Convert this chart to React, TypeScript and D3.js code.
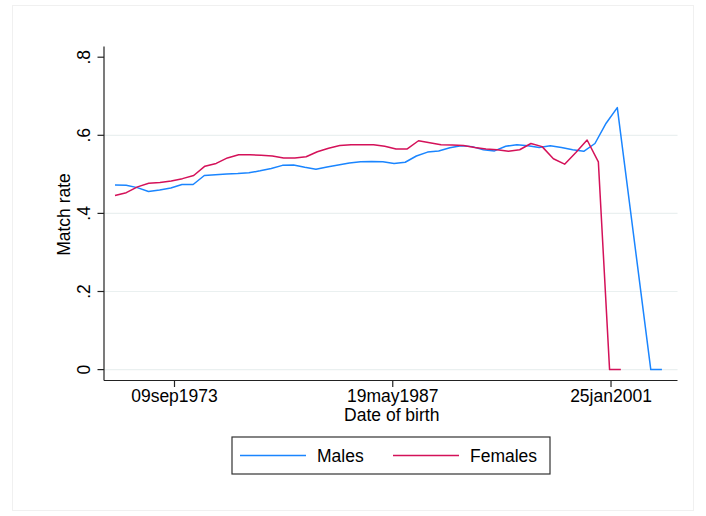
import React from 'react';
import * as d3 from 'd3';

// birth dates as Stata day numbers (days since 01jan1960)
const maleDates = [
  3637, 3893, 4148, 4404, 4660, 4916, 5171, 5427, 5683, 5938,
  6194, 6450, 6705, 6961, 7217, 7473, 7728, 7984, 8240, 8495,
  8751, 9007, 9262, 9518, 9774, 10030, 10285, 10541, 10797, 11052,
  11308, 11564, 11819, 12075, 12331, 12587, 12842, 13098, 13354, 13609,
  13865, 14121, 14376, 14632, 14888, 15144, 15911, 16166
];
const maleRates = [
  0.473, 0.472, 0.466, 0.456, 0.460, 0.465, 0.474, 0.474, 0.497, 0.499,
  0.501, 0.502, 0.504, 0.509, 0.515, 0.523, 0.524, 0.518, 0.513, 0.519,
  0.524, 0.529, 0.532, 0.533, 0.532, 0.528, 0.531, 0.547, 0.557, 0.560,
  0.568, 0.573, 0.571, 0.563, 0.560, 0.572, 0.576, 0.573, 0.569, 0.573,
  0.569, 0.563, 0.559, 0.579, 0.631, 0.671, 0, 0
];
const femaleDates = [
  3637, 3895, 4152, 4410, 4667, 4925, 5182, 5440, 5697, 5955,
  6212, 6470, 6727, 6985, 7242, 7500, 7757, 8015, 8272, 8530,
  8787, 9045, 9302, 9560, 9817, 10075, 10332, 10590, 10847, 11105,
  11362, 11620, 11877, 12135, 12392, 12650, 12907, 13165, 13422, 13680,
  13937, 14195, 14452, 14710, 14967, 15225
];
const femaleRates = [
  0.446, 0.453, 0.468, 0.477, 0.479, 0.483, 0.489, 0.497, 0.521, 0.528,
  0.542, 0.550, 0.550, 0.549, 0.547, 0.542, 0.542, 0.545, 0.558, 0.567,
  0.574, 0.576, 0.576, 0.576, 0.572, 0.565, 0.565, 0.586, 0.581, 0.576,
  0.575, 0.574, 0.569, 0.565, 0.563, 0.559, 0.563, 0.579, 0.571, 0.540,
  0.526, 0.556, 0.588, 0.532, 0, 0
];

const xTickValues = [5000, 10000, 15000];
const xTickLabels = ['09sep1973', '19may1987', '25jan2001'];
const yTickValues = [0, 0.2, 0.4, 0.6, 0.8];
const yTickLabels = ['0', '.2', '.4', '.6', '.8'];
const gridValues = [0, 0.2, 0.4, 0.6];
const seriesNames = ['Males', 'Females'];
const seriesColors = ['#1a85ff', '#d41159'];

const W = 706, H = 516;
const plot = { left: 104, right: 677.5, top: 46.5, bottom: 380.5 };
const font = '"Liberation Sans", Arial, Helvetica, sans-serif';
const fs = 17.5;

export default function App() {
  const x = d3.scaleLinear().domain([3385, 16523]).range([plot.left, plot.right]);
  const y = d3.scaleLinear().domain([0, 0.8]).range([369.6, 57.2]);

  const line = d3.line<[number, number]>()
    .x((d) => x(d[0]))
    .y((d) => y(d[1]));

  const series = [
    maleDates.map((d, i) => [d, maleRates[i]] as [number, number]),
    femaleDates.map((d, i) => [d, femaleRates[i]] as [number, number]),
  ];

  const legend = { x: 232, y: 437, w: 318, h: 37 };
  const legendItems = [
    { x1: 240, x2: 306, tx: 317 },
    { x1: 393, x2: 459, tx: 470 },
  ];

  return (
    <div style={{ position: 'fixed', left: 0, top: 0 }}>
      <svg width={W} height={H} style={{ display: 'block', fontFamily: font }}>
        <rect x={0} y={0} width={W} height={H} fill="#ffffff" />
        <rect x={12.5} y={5.5} width={681} height={505} fill="none" stroke="#f0f0f0" strokeWidth={1} />

        {gridValues.map((v) => (
          <line key={`g-${v}`} x1={plot.left} x2={plot.right} y1={y(v)} y2={y(v)}
            stroke="#eaf0f0" strokeWidth={1.2} />
        ))}

        {series.map((s, i) => (
          <path key={seriesNames[i]} d={line(s) || ''} fill="none"
            stroke={seriesColors[i]} strokeWidth={1.5} strokeLinejoin="round" />
        ))}

        {/* y axis */}
        <line x1={plot.left} x2={plot.left} y1={plot.top} y2={plot.bottom} stroke="#222" strokeWidth={1.2} />
        {yTickValues.map((v, i) => (
          <g key={`yt-${v}`}>
            <line x1={plot.left - 6.5} x2={plot.left} y1={y(v)} y2={y(v)} stroke="#222" strokeWidth={1.2} />
            <text transform={`translate(90,${y(v)}) rotate(-90)`} textAnchor="middle"
              fontSize={fs} fill="#000">{yTickLabels[i]}</text>
          </g>
        ))}
        <text transform={`translate(69.5,${(plot.top + plot.bottom) / 2 + 1}) rotate(-90)`}
          textAnchor="middle" fontSize={fs} fill="#000">Match rate</text>

        {/* x axis */}
        <line x1={plot.left} x2={plot.right} y1={plot.bottom} y2={plot.bottom} stroke="#222" strokeWidth={1.2} />
        {xTickValues.map((v, i) => (
          <g key={`xt-${v}`}>
            <line x1={x(v)} x2={x(v)} y1={plot.bottom} y2={plot.bottom + 6.5} stroke="#222" strokeWidth={1.2} />
            <text x={x(v)} y={402} textAnchor="middle" fontSize={fs} fill="#000">{xTickLabels[i]}</text>
          </g>
        ))}
        <text x={(plot.left + plot.right) / 2 + 1} y={420.5} textAnchor="middle" fontSize={fs} fill="#000">
          Date of birth
        </text>

        {/* legend */}
        <rect x={legend.x} y={legend.y} width={legend.w} height={legend.h} fill="#fff"
          stroke="#333" strokeWidth={1.2} />
        {legendItems.map((it, i) => (
          <g key={`lg-${i}`}>
            <line x1={it.x1} x2={it.x2} y1={legend.y + legend.h / 2} y2={legend.y + legend.h / 2}
              stroke={seriesColors[i]} strokeWidth={1.5} />
            <text x={it.tx} y={legend.y + legend.h / 2 + 6.3} fontSize={fs} fill="#000">{seriesNames[i]}</text>
          </g>
        ))}
      </svg>
    </div>
  );
}
